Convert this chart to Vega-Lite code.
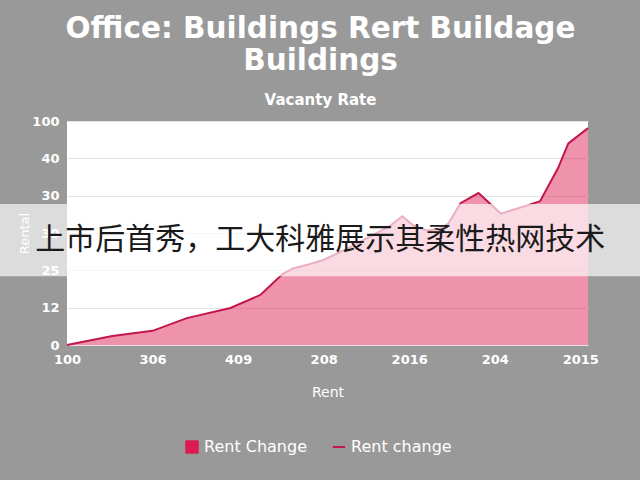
{
  "$schema": "https://vega.github.io/schema/vega-lite/v6.json",
  "width": 521,
  "height": 224,
  "autosize": {"type": "none"},
  "padding": {"left": 67, "top": 121, "right": 52, "bottom": 135},
  "background": "#999999",
  "title": {
    "text": ["Office: Buildings Rert Buildage", "Buildings"],
    "subtitle": "Vacanty Rate",
    "anchor": "middle",
    "frame": "group",
    "dx": -7,
    "color": "white",
    "font": "DejaVu Sans",
    "fontSize": 29.5,
    "fontWeight": "bold",
    "lineHeight": 32,
    "subtitleColor": "white",
    "subtitleFont": "DejaVu Sans",
    "subtitleFontSize": 15,
    "subtitleFontWeight": 600,
    "subtitlePadding": 17,
    "offset": 6
  },
  "config": {
    "view": {"fill": "white", "stroke": null},
    "axis": {
      "labelColor": "white",
      "labelFont": "DejaVu Sans",
      "labelFontSize": 13,
      "labelFontWeight": "bold",
      "labelOverlap": false,
      "labelFlush": false,
      "titleColor": "white",
      "titleFont": "DejaVu Sans",
      "titleFontSize": 14,
      "titleFontWeight": "normal",
      "domain": false,
      "ticks": false,
      "gridColor": "#e3e3e3"
    },
    "legend": {
      "orient": "none",
      "direction": "horizontal",
      "labelColor": "white",
      "labelFont": "DejaVu Sans",
      "labelFontSize": 16,
      "title": null
    }
  },
  "datasets": {
    "rent": [
      {"x": 0, "y": 0},
      {"x": 0.53, "y": 0.24},
      {"x": 1.0, "y": 0.38},
      {"x": 1.4, "y": 0.72},
      {"x": 1.91, "y": 0.99},
      {"x": 2.26, "y": 1.34},
      {"x": 2.52, "y": 1.9},
      {"x": 2.64, "y": 2.05},
      {"x": 2.81, "y": 2.15},
      {"x": 3.0, "y": 2.28},
      {"x": 3.31, "y": 2.62},
      {"x": 3.58, "y": 2.95},
      {"x": 3.78, "y": 3.2},
      {"x": 3.92, "y": 3.45},
      {"x": 4.05, "y": 3.2},
      {"x": 4.21, "y": 3.07},
      {"x": 4.36, "y": 3.12},
      {"x": 4.46, "y": 3.26},
      {"x": 4.6, "y": 3.8},
      {"x": 4.81, "y": 4.07},
      {"x": 5.07, "y": 3.52},
      {"x": 5.38, "y": 3.74},
      {"x": 5.53, "y": 3.85},
      {"x": 5.74, "y": 4.74},
      {"x": 5.86, "y": 5.4},
      {"x": 6.09, "y": 5.81}
    ],
    "banner": [
      {"label": "上市后首秀，工大科雅展示其柔性热网技术"}
    ]
  },
  "layer": [
    {
      "data": {"name": "rent"},
      "mark": {"type": "area", "fillOpacity": 0.47},
      "encoding": {
        "x": {
          "field": "x",
          "type": "quantitative",
          "scale": {"domain": [0, 6.09], "nice": false, "zero": false},
          "axis": {
            "title": "Rent",
            "values": [0, 1, 2, 3, 4, 5, 6],
            "labelExpr": "['100','306','409','208','2016','204','2015'][datum.value]",
            "grid": false,
            "labelOverlap": false,
            "labelPadding": 8,
            "titlePadding": 19
          }
        },
        "y": {
          "field": "y",
          "type": "quantitative",
          "scale": {"domain": [0, 6], "nice": false},
          "axis": {
            "title": "Rental",
            "values": [0, 1, 2, 3, 4, 5, 6],
            "tickCount": 7,
            "labelExpr": "['0','12','25','30','30','40','100'][datum.value]",
            "labelOverlap": false,
            "labelPadding": 8,
            "titlePadding": 0,
            "titleFontSize": 13
          }
        },
        "fill": {
          "datum": "Rent Change",
          "type": "nominal",
          "scale": {"range": ["#dc1a50"]},
          "legend": {"symbolType": "square", "symbolOpacity": 1, "symbolSize": 180, "symbolStrokeWidth": 0, "legendX": 117, "legendY": 318}
        }
      }
    },
    {
      "data": {"name": "rent"},
      "mark": {"type": "line", "strokeWidth": 2},
      "encoding": {
        "x": {"field": "x", "type": "quantitative"},
        "y": {"field": "y", "type": "quantitative"},
        "stroke": {
          "datum": "Rent change",
          "type": "nominal",
          "scale": {"range": ["#c2174a"]},
          "legend": {"symbolType": "stroke", "symbolStrokeWidth": 2, "symbolSize": 150, "legendX": 264, "legendY": 318}
        }
      }
    },
    {
      "data": {"name": "banner"},
      "mark": {"type": "rect", "fill": "white", "opacity": 0.66},
      "encoding": {
        "x": {"datum": -0.79, "type": "quantitative"},
        "x2": {"datum": 6.7},
        "y": {"datum": 1.84, "type": "quantitative"},
        "y2": {"datum": 3.78}
      }
    },
    {
      "data": {"name": "banner"},
      "mark": {"type": "text", "font": "Noto Sans CJK SC", "fontSize": 30, "color": "#1a1a1a", "align": "center", "baseline": "middle"},
      "encoding": {
        "x": {"datum": 2.96, "type": "quantitative"},
        "y": {"datum": 2.81, "type": "quantitative"},
        "text": {"field": "label"}
      }
    }
  ]
}
